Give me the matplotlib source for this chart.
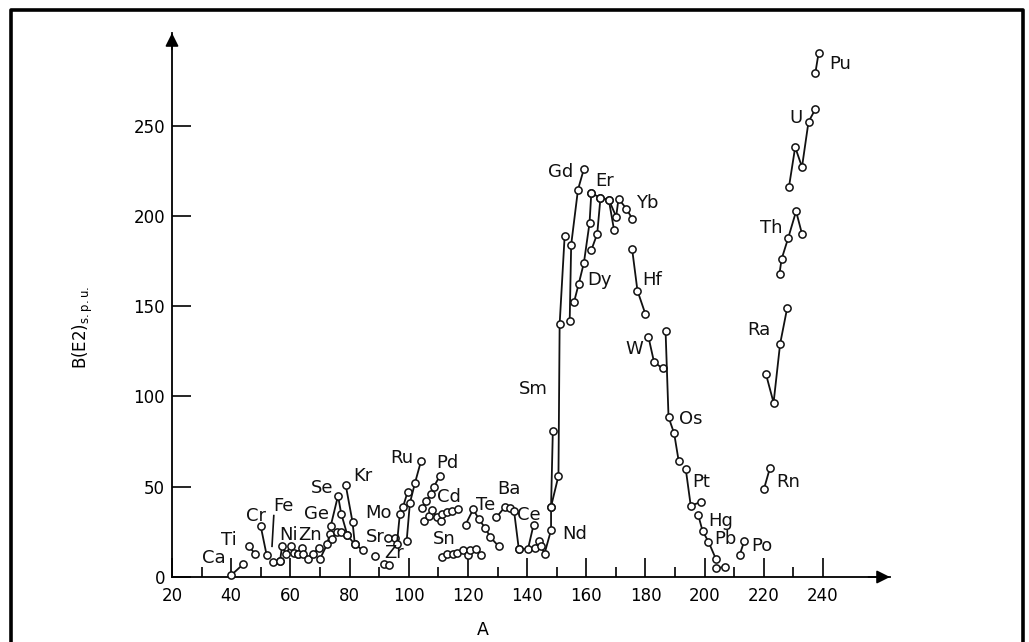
import matplotlib
matplotlib.use("Agg")
import matplotlib.pyplot as plt
from matplotlib.lines import Line2D

plt.rcParams['font.family'] = ['DejaVu Sans']

# ---- data: (mass number A, B(E2) in s.p.u.) ----
A_Ca = [40, 44];                     B_Ca = [1, 7]
A_Ti = [46, 48];                     B_Ti = [17, 13]
A_Cr = [50, 52];                     B_Cr = [28, 12]
A_Fe = [54, 56.5];                   B_Fe = [8.5, 9]
A_Ni = [56.5, 57.2, 58.5, 60.1, 61.2, 62.7]
B_Ni = [9, 17, 13, 17, 13.5, 13]
A_Zn = [62.7, 63.9, 64.4, 66.1, 67.8, 69.6]
B_Zn = [13, 16, 13, 10, 13, 16]
A_Ge = [70, 72.4, 73.3, 74.1, 75.6, 77, 79.3]
B_Ge = [10, 18, 24, 21, 25, 25, 23]
A_Se = [73.6, 76.1, 77.2, 79.3, 81.8]
B_Se = [28, 45, 35, 23, 18]
A_Kr = [78.7, 81, 81.8, 84.4];       B_Kr = [51, 30.5, 18, 15]
A_Sr1 = [88.6];                      B_Sr1 = [11.6]
A_Sr2 = [93, 95.5];                  B_Sr2 = [21.5, 21.5]
A_Zr = [91.8, 93.5];                 B_Zr = [7, 6.5]
A_Mo = [96, 97, 98, 99.6];           B_Mo = [18, 35, 38.5, 47]
A_Ru = [99.3, 100.4, 102.1, 104.2];  B_Ru = [20, 41, 52, 64.5]
A_Pd = [104.5, 106, 107.5, 108.5, 110.5]
B_Pd = [38, 42, 46, 50, 56]
A_Cd = [105.3, 107, 108, 109.5, 110.8, 111.4, 112.9, 114.5, 116.8]
B_Cd = [31, 34, 37, 33, 31, 35, 36, 36.5, 37.5]
A_Sn = [111.4, 113.1, 114.8, 116.4, 118.5, 120, 120.7, 122.6, 124.3]
B_Sn = [11, 12.5, 13, 13.5, 15, 12, 15, 15.5, 12]
A_Te = [119.2, 121.8, 123.7, 125.9, 127.6, 130.4]
B_Te = [29, 37.5, 32, 27, 22, 17]
A_Ba = [129.6, 132.6, 134.3, 135.6, 137.2]
B_Ba = [33, 39, 38, 36.5, 15.5]
A_Ce = [137.2, 140.3, 142.2];        B_Ce = [15.5, 15.5, 29]
A_Nd = [142.7, 143.9, 144.7, 145.9, 148.1, 148.1, 148.7]
B_Nd = [16, 20, 17, 13, 26, 39, 81]
A_Sm = [148.1, 150.6, 151, 152.7];   B_Sm = [39, 56, 140, 189]
A_Gd = [154.4, 154.9, 157.2, 159.2]; B_Gd = [142, 184, 214.5, 226]
A_Dy = [155.9, 157.4, 159.2, 161.1, 161.7]
B_Dy = [152.5, 162, 174, 196, 212.5]
A_Er1 = [161.7, 163.7, 164.8];       B_Er1 = [181, 190, 210]
A_Er2 = [161.7, 164.8, 167.6, 169.4]; B_Er2 = [212.5, 210, 209, 192]
A_Yb = [167.6, 170.1, 170.9, 173.5, 175.5]
B_Yb = [209, 199.5, 209.5, 204, 198.5]
A_Hf = [175.5, 177.3, 180];          B_Hf = [181.5, 158.5, 145.5]
A_W = [181, 182.9, 185.8];           B_W = [133, 119, 115.5]
A_Os = [186.8, 187.8, 189.7, 191.2]; B_Os = [136, 88.5, 79.5, 64.5]
A_Pt = [193.6, 195.3, 198.7];        B_Pt = [60, 39.5, 41.5]
A_Hg = [197.8, 199.3, 201.3, 203.8]; B_Hg = [34.5, 25.5, 19.5, 10]
A_Pb = [203.8, 206.8];               B_Pb = [5, 5.5]
A_Po = [211.8, 213.4];               B_Po = [12, 20]
A_Rn = [220, 222.1];                 B_Rn = [48.5, 60.5]
A_Ra = [220.7, 223.3, 225.5, 227.9]; B_Ra = [112.5, 96.5, 129, 149]
A_Th = [225.3, 226, 228.2, 230.9, 232.9]
B_Th = [168, 176, 187.5, 202.5, 190]
A_U = [228.5, 230.6, 232.9, 235.1, 237.4]
B_U = [216, 238, 227, 252, 259]
A_Pu = [237.4, 238.5];               B_Pu = [279, 290]

# Fe leader line (from label to data)
A_Fe_lead = [54.4, 53.8];            B_Fe_lead = [34, 17]

# element labels
label_names = ['Ca', 'Ti', 'Cr', 'Fe', 'Ni', 'Zn', 'Ge', 'Se', 'Kr', 'Sr', 'Zr',
               'Mo', 'Ru', 'Pd', 'Cd', 'Sn', 'Te', 'Ba', 'Ce', 'Nd', 'Sm', 'Gd',
               'Er', 'Yb', 'Dy', 'Hf', 'W', 'Os', 'Pt', 'Hg', 'Pb', 'Po', 'Rn',
               'Ra', 'Th', 'U', 'Pu']
label_a = [34.2, 39.3, 48.4, 57.6, 59.3, 66.7, 69.0, 70.7, 84.4, 88.6, 95.0,
           89.8, 97.5, 113.1, 113.7, 112.0, 125.9, 133.8, 140.5, 156.0, 142.2, 151.3,
           166.1, 180.6, 164.5, 182.3, 176.2, 195.3, 198.7, 205.4, 207.1, 219.4, 228.3,
           218.3, 222.4, 230.9, 245.9]
label_b = [10.3, 20.5, 34, 39.3, 23.3, 23.3, 34.9, 49.4, 55.9, 22.3, 13.1,
           35.3, 66, 63.3, 44.5, 20.9, 39.9, 48.6, 34.3, 23.8, 103.9, 224.4,
           219.4, 207.3, 164.5, 164.5, 126, 87.3, 52.8, 31.2, 20.9, 17.2, 52.8,
           136.8, 193.1, 254, 283.9]

x_ticks_major = [20, 40, 60, 80, 100, 120, 140, 160, 180, 200, 220, 240]
x_ticks_minor = [30, 50, 70, 90, 110, 130, 150, 170, 190, 210, 230]
y_ticks = [0, 50, 100, 150, 200, 250]

chains = [(A_Ca, B_Ca), (A_Ti, B_Ti), (A_Cr, B_Cr), (A_Ni, B_Ni), (A_Zn, B_Zn),
          (A_Ge, B_Ge), (A_Se, B_Se), (A_Kr, B_Kr), (A_Sr2, B_Sr2), (A_Mo, B_Mo),
          (A_Ru, B_Ru), (A_Pd, B_Pd), (A_Cd, B_Cd), (A_Sn, B_Sn), (A_Te, B_Te),
          (A_Ba, B_Ba), (A_Ce, B_Ce), (A_Nd, B_Nd), (A_Sm, B_Sm), (A_Gd, B_Gd),
          (A_Dy, B_Dy), (A_Er1, B_Er1), (A_Er2, B_Er2), (A_Yb, B_Yb), (A_Hf, B_Hf),
          (A_W, B_W), (A_Os, B_Os), (A_Pt, B_Pt), (A_Hg, B_Hg), (A_Pb, B_Pb),
          (A_Po, B_Po), (A_Rn, B_Rn), (A_Ra, B_Ra), (A_Th, B_Th), (A_U, B_U),
          (A_Pu, B_Pu)]
singles = [(A_Fe, B_Fe), (A_Sr1, B_Sr1), (A_Zr, B_Zr)]

W, H = 1029, 642
fig = plt.figure(figsize=(W / 100, H / 100), dpi=100)
fig.patch.set_facecolor('white')

x0_px, x1_px = 172, 890      # axis origin / arrow tip (pixels)
y0_px, y1_px = 577, 33
ax = fig.add_axes([x0_px / W, 1 - y0_px / H, (x1_px - x0_px) / W, (y0_px - y1_px) / H])
px_per_a = (823 - 172) / 220.0
px_per_b = 90.3 / 50.0
ax.set_xlim(20, 20 + (x1_px - x0_px) / px_per_a)
ax.set_ylim(0, (y0_px - y1_px) / px_per_b)

for s in ['top', 'right']:
    ax.spines[s].set_visible(False)
for s in ['left', 'bottom']:
    ax.spines[s].set_linewidth(1.3)
    ax.spines[s].set_color('black')

ax.set_xticks(x_ticks_major)
ax.set_xticklabels([str(t) for t in x_ticks_major])
ax.set_xticks(x_ticks_minor, minor=True)
ax.set_yticks(y_ticks)
ax.set_yticklabels([str(t) for t in y_ticks])
ax.tick_params(axis='x', which='major', direction='in', length=14, width=1.2,
               pad=7, labelsize=12)
ax.tick_params(axis='x', which='minor', direction='in', length=7, width=1.2)
ax.tick_params(axis='y', which='major', direction='in', length=14, width=1.2,
               pad=5, labelsize=12)

lc = '#111111'
mk = dict(marker='o', markersize=5.2, markerfacecolor='white',
          markeredgecolor=lc, markeredgewidth=1.1)
for a, b in chains:
    ax.plot(a, b, color=lc, lw=1.3, clip_on=False, zorder=3, **mk)
for a, b in singles:
    ax.plot(a, b, linestyle='none', clip_on=False, zorder=3, **mk)
ax.plot(A_Fe_lead, B_Fe_lead, color=lc, lw=1.2, zorder=3)

for name, a, b in zip(label_names, label_a, label_b):
    ax.text(a, b, name, ha='center', va='center', fontsize=13, color=lc)

# axis arrows
ax.annotate('', xy=(1.0, 0), xytext=(0.97, 0), xycoords='axes fraction',
            arrowprops=dict(arrowstyle='-|>', color='black', lw=1.2,
                            mutation_scale=20, shrinkA=0, shrinkB=0))
ax.annotate('', xy=(0, 1.0), xytext=(0, 0.97), xycoords='axes fraction',
            arrowprops=dict(arrowstyle='-|>', color='black', lw=1.2,
                            mutation_scale=20, shrinkA=0, shrinkB=0))

fig.text(83 / W, 1 - 328 / H, r'B(E2)$_{\mathrm{s.p.u.}}$', rotation=90,
         ha='center', va='center', fontsize=12)
fig.text(483 / W, 1 - 630 / H, 'A', ha='center', va='center', fontsize=12.5)

# frame around the figure (open at the bottom)
fig.add_artist(Line2D([11 / W, 11 / W, 1023 / W, 1023 / W],
                      [0, 1 - 10 / H, 1 - 10 / H, 0],
                      transform=fig.transFigure, color='black', lw=2.6))

fig.savefig('out.png', dpi=100, facecolor='white')
